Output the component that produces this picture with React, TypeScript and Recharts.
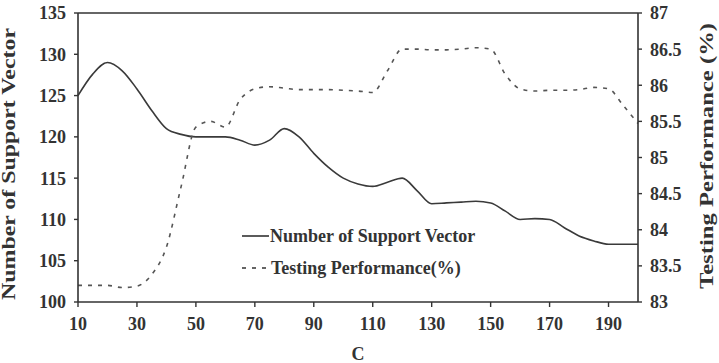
import * as React from "react";
import { LineChart, Line, XAxis, YAxis, ReferenceLine } from "recharts";

// C values (x axis)
const cValues = [
  10, 15, 20, 25, 30, 35, 40, 45, 50, 55, 60, 65, 70, 75, 80, 85, 90, 95, 100,
  105, 110, 115, 120, 125, 130, 135, 140, 145, 150, 155, 160, 165, 170, 175, 180,
  185, 190, 195, 200,
];

// number of support vectors (left axis)
const supportVectors = [
  125, 127.6, 129, 128, 125.8, 123.2, 121, 120.3, 120, 120, 120, 119.6, 119,
  119.6, 121, 120, 118, 116.3, 115, 114.3, 114, 114.5, 115, 113.5, 111.9, 112,
  112.1, 112.2, 112, 111, 110, 110.1, 110, 109, 108, 107.4, 107, 107, 107,
];

// testing performance in % (right axis)
const testingPerf = [
  83.23, 83.23, 83.23, 83.2, 83.22, 83.38, 83.76, 84.6, 85.42, 85.5, 85.42,
  85.8, 85.95, 85.98, 85.96, 85.94, 85.94, 85.94, 85.93, 85.92, 85.9, 86.2,
  86.5, 86.5, 86.49, 86.49, 86.5, 86.52, 86.5, 86.15, 85.95, 85.92, 85.93,
  85.93, 85.94, 85.97, 85.95, 85.72, 85.47,
];

const xTicks = [10, 30, 50, 70, 90, 110, 130, 150, 170, 190];
const leftTicks = [100, 105, 110, 115, 120, 125, 130, 135];
const rightTicks = [83, 83.5, 84, 84.5, 85, 85.5, 86, 86.5, 87];

const data = cValues.map((c, i) => ({
  c,
  sv: supportVectors[i],
  perf: testingPerf[i],
}));

const FONT = "'Liberation Serif', 'Times New Roman', serif";
const INK = "#333";
const tickStyle = { fontFamily: FONT, fontWeight: 700, fontSize: 18, fill: "#333" };

export default function App() {
  return (
    <div style={{ position: "absolute", left: 0, top: 0, width: 719, height: 363, background: "#fff", overflow: "hidden" }}>
      <LineChart width={719} height={363} data={data} margin={{ top: 13, right: 31, left: 28, bottom: 31 }}>
        <XAxis
          dataKey="c"
          type="number"
          domain={[10, 200]}
          ticks={xTicks}
          height={30}
          tickSize={5}
          tickMargin={10}
          tick={tickStyle}
          axisLine={{ stroke: INK, strokeWidth: 1.6 }}
          tickLine={{ stroke: INK, strokeWidth: 1.4 }}
        />
        <YAxis
          yAxisId="left"
          domain={[100, 135]}
          ticks={leftTicks}
          width={50}
          tickSize={4}
          tickMargin={8}
          tick={tickStyle}
          axisLine={{ stroke: INK, strokeWidth: 1.6 }}
          tickLine={{ stroke: INK, strokeWidth: 1.4 }}
        />
        <YAxis
          yAxisId="right"
          orientation="right"
          domain={[83, 87]}
          ticks={rightTicks}
          width={50}
          tickSize={4}
          tickMargin={8}
          tick={tickStyle}
          axisLine={{ stroke: INK, strokeWidth: 1.6 }}
          tickLine={{ stroke: INK, strokeWidth: 1.4 }}
        />
        <ReferenceLine yAxisId="left" y={135} stroke={INK} strokeWidth={1.6} />
        <Line
          yAxisId="left"
          dataKey="sv"
          type="monotone"
          stroke="#3a3a3a"
          strokeWidth={1.6}
          dot={false}
          isAnimationActive={false}
        />
        <Line
          yAxisId="right"
          dataKey="perf"
          type="monotone"
          stroke="#555"
          strokeWidth={1.6}
          strokeDasharray="4 6"
          dot={false}
          isAnimationActive={false}
        />
      </LineChart>
      <svg width={719} height={363} style={{ position: "absolute", left: 0, top: 0, pointerEvents: "none" }}>
        {/* legend */}
        <line x1={242} y1={236} x2={269} y2={236} stroke={INK} strokeWidth={1.6} />
        <text x={270} y={242} style={tickStyle}>Number of Support Vector</text>
        <line x1={242} y1={268} x2={269} y2={268} stroke={INK} strokeWidth={1.6} strokeDasharray="4 6" />
        <text x={271} y={274} style={tickStyle}>Testing Performance(%)</text>
        {/* axis titles */}
        <text
          transform="translate(15,164) rotate(-90)"
          textAnchor="middle"
          textLength={272}
          lengthAdjust="spacingAndGlyphs"
          style={tickStyle}
        >
          Number of Support Vector
        </text>
        <text
          transform="translate(713,156) rotate(-90)"
          textAnchor="middle"
          textLength={266}
          lengthAdjust="spacingAndGlyphs"
          style={tickStyle}
        >
          Testing Performance (%)
        </text>
        <text x={358} y={360} textAnchor="middle" style={{ ...tickStyle, fontSize: 18 }}>
          C
        </text>
      </svg>
    </div>
  );
}
